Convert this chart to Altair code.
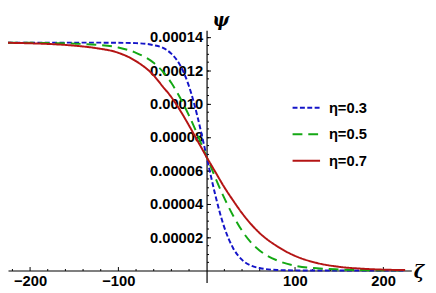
import altair as alt
import pandas as pd

zeta = [-225, -200, -175, -150, -125, -100, -80, -60, -50, -40, -30, -20, -10, -5,
        0, 5, 10, 20, 30, 40, 50, 60, 80, 100, 125, 150, 175, 200, 225]

psi_03 = [1.366e-4, 1.366e-4, 1.366e-4, 1.366e-4, 1.366e-4, 1.365e-4, 1.363e-4, 1.351e-4,
          1.336e-4, 1.30e-4, 1.231e-4, 1.106e-4, 9.16e-5, 8.02e-5,
          6.83e-5, 5.64e-5, 4.5e-5, 2.6e-5, 1.35e-5, 6.5e-6, 3.0e-6, 1.45e-6, 3e-7, 6e-8,
          1e-8, 0.0, 0.0, 0.0, 0.0]

psi_05 = [1.3655e-4, 1.365e-4, 1.3635e-4, 1.36e-4, 1.353e-4, 1.337e-4, 1.305e-4, 1.245e-4,
          1.195e-4, 1.125e-4, 1.035e-4, 9.3e-5, 8.1e-5, 7.46e-5,
          6.83e-5, 6.2e-5, 5.55e-5, 4.35e-5, 3.3e-5, 2.4e-5, 1.7e-5, 1.2e-5, 6.0e-6, 2.9e-6,
          1.3e-6, 6e-7, 2.5e-7, 1.2e-7, 5e-8]

psi_07 = [1.365e-4, 1.362e-4, 1.357e-4, 1.348e-4, 1.333e-4, 1.305e-4, 1.255e-4, 1.17e-4,
          1.105e-4, 1.04e-4, 9.6e-5, 8.7e-5, 7.75e-5, 7.28e-5,
          6.8e-5, 6.35e-5, 5.9e-5, 5.0e-5, 4.2e-5, 3.45e-5, 2.8e-5, 2.25e-5, 1.45e-5, 8.8e-6,
          4.5e-6, 2.2e-6, 1.1e-6, 5e-7, 2.5e-7]

labels = ["η=0.3", "η=0.5", "η=0.7"]
colors = ["#1414c8", "#14a814", "#b41414"]
dashes = [[5, 2.5], [10, 6], [1, 0]]

x_major = [-200, -100, 100, 200]
x_minor = [-220, -180, -160, -140, -120, -80, -60, -40, -20, 20, 40, 60, 80, 120, 140, 160, 180, 220]
y_major = [0.00002, 0.00004, 0.00006, 0.00008, 0.00010, 0.00012, 0.00014]
y_minor = [i * 0.000005 for i in range(1, 29)]

rows = []
for lab, series in zip(labels, [psi_03, psi_05, psi_07]):
    for z, p in zip(zeta, series):
        rows.append({"zeta": z, "psi": p, "eta": lab})
df = pd.DataFrame(rows)

W, H = 411, 257
XD = [-225, 232]
YD = [-0.0000072, 0.000144]
x0 = W * (0 - XD[0]) / (XD[1] - XD[0])          # pixel of zeta=0
y0 = H * (YD[1] - 0) / (YD[1] - YD[0])          # pixel of psi=0 from top

FONT = "Liberation Sans"

xs = alt.Scale(domain=XD, nice=False, zero=False)
ys = alt.Scale(domain=YD, nice=False, zero=False)

legend = alt.Legend(orient="none", legendX=289, legendY=64, title=None,
                    symbolType="stroke", symbolSize=784, symbolStrokeWidth=2,
                    labelFont=FONT, labelFontSize=15, labelFontWeight="bold",
                    labelColor="black", labelOffset=8, rowPadding=4)

lines = alt.Chart(df).mark_line(strokeWidth=2, interpolate="monotone").encode(
    x=alt.X("zeta:Q", scale=xs,
            axis=alt.Axis(orient="bottom", offset=-(H - y0), values=x_major, domain=False,
                          ticks=False, grid=False, labelFont=FONT, labelFontSize=15,
                          labelFontWeight="bold", labelColor="black", labelPadding=3,
                          title="ζ", titleFont="DejaVu Serif", titleFontSize=18,
                          titleFontStyle="italic", titleFontWeight="bold",
                          titleX=W + 2, titleY=2, titleAlign="left",
                          titleBaseline="middle", titleAngle=0)),
    y=alt.Y("psi:Q", scale=ys,
            axis=alt.Axis(orient="left", offset=-x0, values=y_major, domain=False,
                          ticks=False, grid=False, format=".5f", labelFont=FONT,
                          labelFontSize=15, labelFontWeight="bold", labelColor="black",
                          labelPadding=4,
                          title="ψ", titleFont="DejaVu Serif", titleFontSize=18,
                          titleFontStyle="italic", titleFontWeight="bold",
                          titleX=14, titleY=-19, titleAlign="center",
                          titleBaseline="top", titleAngle=0)),
    color=alt.Color("eta:N", scale=alt.Scale(domain=labels, range=colors), legend=legend),
    strokeDash=alt.StrokeDash("eta:N", scale=alt.Scale(domain=labels, range=dashes),
                              legend=legend),
)

major_ticks = alt.Chart(df).mark_point(opacity=0).encode(
    x=alt.X("zeta:Q", scale=xs,
            axis=alt.Axis(orient="top", offset=-y0, values=x_major, labels=False,
                          domain=True, domainColor="black", domainWidth=1.2,
                          ticks=True, tickSize=4, tickColor="black", grid=False, title=None)),
    y=alt.Y("psi:Q", scale=ys,
            axis=alt.Axis(orient="right", offset=-(W - x0), values=y_major, labels=False,
                          domain=True, domainColor="black", domainWidth=1.2,
                          ticks=True, tickSize=4, tickColor="black", grid=False, title=None)),
)

minor_ticks = alt.Chart(df).mark_point(opacity=0).encode(
    x=alt.X("zeta:Q", scale=xs,
            axis=alt.Axis(orient="top", offset=-y0, values=x_minor, labels=False,
                          domain=False, ticks=True, tickSize=2, tickColor="black",
                          grid=False, title=None)),
    y=alt.Y("psi:Q", scale=ys,
            axis=alt.Axis(orient="right", offset=-(W - x0), values=y_minor, labels=False,
                          domain=False, ticks=True, tickSize=2, tickColor="black",
                          grid=False, title=None)),
)

chart = alt.layer(lines, major_ticks, minor_ticks).resolve_axis(
    x="independent", y="independent"
).properties(
    width=W, height=H,
    autosize=alt.AutoSizeParams(type="none"),
    padding={"left": 0, "top": 20, "right": 17, "bottom": 8},
).configure_view(stroke=None)

chart.save("out.html", embed_options={"renderer": "svg", "actions": False})
